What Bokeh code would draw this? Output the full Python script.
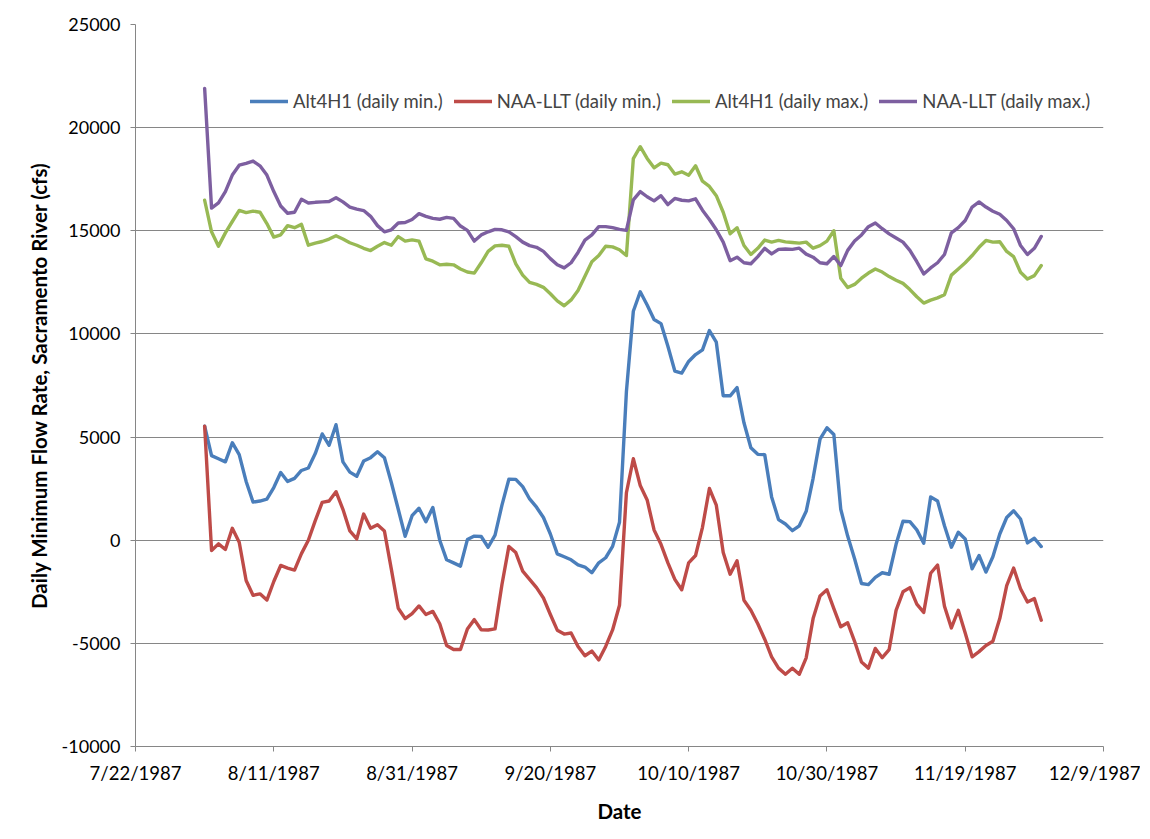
import datetime as dt
import pandas as pd
from bokeh.plotting import figure
from bokeh.models import FixedTicker, Legend, LegendItem, Range1d
from bokeh.embed import file_html
from bokeh.resources import INLINE

# ---- data (daily values, starting 8/1/1987) ----
start_date = "1987-08-01"

alt4h1_min = [
    5530, 4100, 3950, 3800, 4726, 4150, 2850, 1850, 1900, 1990,
    2555, 3279, 2850, 3000, 3380, 3500, 4200, 5150, 4600, 5600,
    3800, 3300, 3100, 3841, 4002, 4292, 4000, 2800, 1500, 191,
    1188, 1550, 900, 1590, 0, -950, -1100, -1256, 32, 200,
    180, -340, 250, 1700, 2957, 2950, 2600, 2000, 1600, 1100,
    300, -661, -800, -950, -1200, -1300, -1578, -1095, -850, -300,
    867, 7200, 11100, 12042, 11400, 10700, 10500, 9400, 8200, 8100,
    8665, 9000, 9228, 10161, 9600, 7000, 7000, 7400, 5691, 4484,
    4163, 4150, 2100, 1000, 786, 465, 700, 1400, 3000, 4900,
    5450, 5128, 1500, 200, -900, -2100, -2150, -1800, -1578, -1650,
    -200, 920, 900, 500, -150, 2100, 1900, 700, -340, 384,
    63, -1385, -742, -1546, -800, 300, 1100, 1429, 1028, -130,
    96, -307,
]

naa_llt_min = [
    5530, -500, -177, -450, 577, -100, -1950, -2671, -2600, -2900,
    -2000, -1224, -1350, -1450, -650, 0, 950, 1831, 1900, 2350,
    1500, 450, 63, 1269, 577, 754, 450, -1400, -3300, -3797,
    -3556, -3186, -3600, -3450, -4050, -5100, -5300, -5300, -4300, -3850,
    -4340, -4350, -4300, -2150, -300, -600, -1500, -1900, -2300, -2800,
    -3600, -4360, -4550, -4500, -5150, -5600, -5372, -5806, -5150, -4350,
    -3153, 2300, 3950, 2650, 1950, 500, -200, -1100, -1900, -2400,
    -1100, -742, 625, 2506, 1700, -600, -1650, -1000, -2912, -3395,
    -4050, -4800, -5650, -6200, -6500, -6209, -6500, -5700, -3800, -2700,
    -2400, -3314, -4199, -4000, -4900, -5900, -6200, -5244, -5694, -5300,
    -3400, -2500, -2300, -3100, -3500, -1600, -1200, -3200, -4250, -3395,
    -4500, -5650, -5400, -5100, -4900, -3800, -2200, -1350, -2350, -2993,
    -2832, -3877,
]

alt4h1_max = [
    16480, 14950, 14255, 14900, 15450, 15990, 15880, 15950, 15900, 15350,
    14693, 14806, 15250, 15150, 15310, 14300, 14400, 14480, 14600, 14760,
    14600, 14420, 14300, 14150, 14044, 14250, 14430, 14300, 14720, 14500,
    14560, 14500, 13638, 13524, 13350, 13380, 13350, 13151, 13000, 12950,
    13450, 14000, 14270, 14300, 14250, 13400, 12850, 12500, 12400, 12260,
    11950, 11600, 11366, 11650, 12100, 12800, 13500, 13800, 14250, 14220,
    14080, 13800, 18500, 19075, 18507, 18050, 18280, 18200, 17750, 17858,
    17695, 18150, 17403, 17150, 16700, 15900, 14855, 15150, 14287, 13850,
    14150, 14550, 14449, 14531, 14460, 14430, 14401, 14450, 14157, 14280,
    14500, 15000, 12700, 12250, 12400, 12700, 12950, 13150, 13000, 12778,
    12600, 12450, 12150, 11800, 11496, 11640, 11750, 11900, 12850, 13150,
    13450, 13800, 14200, 14531, 14450, 14470, 14000, 13750, 12989, 12664,
    12826, 13313,
]

naa_llt_max = [
    21900, 16100, 16350, 16900, 17700, 18180, 18270, 18380, 18150, 17700,
    16900, 16200, 15850, 15900, 16530, 16350, 16380, 16400, 16420, 16600,
    16400, 16150, 16050, 15980, 15700, 15250, 14950, 15050, 15380, 15400,
    15550, 15830, 15700, 15600, 15560, 15650, 15600, 15230, 15020, 14500,
    14800, 14950, 15070, 15050, 14950, 14720, 14450, 14280, 14200, 14000,
    13650, 13350, 13200, 13450, 13950, 14550, 14800, 15200, 15200, 15150,
    15070, 15020, 16500, 16900, 16650, 16450, 16700, 16270, 16570, 16480,
    16450, 16550, 16000, 15550, 15050, 14450, 13550, 13720, 13450, 13400,
    13750, 14150, 13880, 14100, 14120, 14100, 14157, 13870, 13720, 13450,
    13400, 13752, 13313, 14050, 14500, 14800, 15200, 15380, 15100, 14850,
    14650, 14450, 14050, 13500, 12907, 13200, 13450, 13850, 14900, 15150,
    15500, 16150, 16397, 16150, 15950, 15800, 15500, 15100, 14287, 13849,
    14150, 14725,
]

series_names = [
    "Alt4H1 (daily min.)",
    "NAA-LLT (daily min.)",
    "Alt4H1 (daily max.)",
    "NAA-LLT (daily max.)",
]
series_colors = ["#4A7EBB", "#BE4B48", "#98B954", "#7D5FA0"]

x_tick_dates = ["1987-07-22", "1987-08-11", "1987-08-31", "1987-09-20",
                "1987-10-10", "1987-10-30", "1987-11-19", "1987-12-09"]
x_tick_labels = ["7/22/1987", "8/11/1987", "8/31/1987", "9/20/1987",
                 "10/10/1987", "10/30/1987", "11/19/1987", "12/9/1987"]
y_ticks = [-10000, -5000, 0, 5000, 10000, 15000, 20000, 25000]
y_tick_labels = ["-10000", "-5000", "0", "5000", "10000", "15000", "20000", "25000"]

# ---- build ----
def to_ms(s):
    d = dt.datetime.strptime(s, "%Y-%m-%d")
    return (d - dt.datetime(1970, 1, 1)).total_seconds() * 1000.0

dates = pd.date_range(start_date, periods=len(alt4h1_min), freq="D")
tick_ms = [to_ms(s) for s in x_tick_dates]

FONT = "Lato"
W, H = 1140, 830
p = figure(
    width=W, height=H,
    x_axis_type="datetime",
    output_backend="svg", toolbar_location=None,
    x_range=Range1d(tick_ms[0], tick_ms[-1]),
    y_range=Range1d(y_ticks[0], y_ticks[-1]),
    min_border_left=135, min_border_top=24,
    min_border_right=W - 1103, min_border_bottom=H - 746,
)
p.outline_line_color = None
p.background_fill_color = "white"
p.border_fill_color = "white"

renderers = []
for vals, color in zip([alt4h1_min, naa_llt_min, alt4h1_max, naa_llt_max], series_colors):
    r = p.line(dates, vals, line_color=color, line_width=3.4, line_join="round", line_cap="round")
    renderers.append(r)

# axes
p.xaxis.ticker = FixedTicker(ticks=tick_ms)
p.xaxis.major_label_overrides = {t: lab for t, lab in zip(tick_ms, x_tick_labels)}
p.yaxis.ticker = FixedTicker(ticks=y_ticks)
p.yaxis.major_label_overrides = {t: lab for t, lab in zip(y_ticks, y_tick_labels)}
for ax in (p.xaxis[0], p.yaxis[0]):
    ax.axis_line_color = "#868686"
    ax.axis_line_width = 1
    ax.major_tick_line_color = "#868686"
    ax.major_tick_out = 5
    ax.major_tick_in = 0
    ax.minor_tick_out = 0
    ax.minor_tick_in = 0
    ax.major_label_text_font = FONT
    ax.major_label_text_color = "black"
    ax.axis_label_text_font = FONT
    ax.axis_label_text_font_style = "bold"
    ax.axis_label_text_font_size = "20.5px"
    ax.axis_label_text_color = "black"
p.xaxis.major_label_text_font_size = "18.5px"
p.yaxis.major_label_text_font_size = "18px"

p.xaxis.axis_label = "Date"
p.xaxis.major_label_standoff = 10
p.xaxis.axis_label_standoff = 12
p.yaxis.axis_label = "Daily Minimum Flow Rate, Sacramento River (cfs)"
p.yaxis.major_label_standoff = 10
p.yaxis.axis_label_standoff = 8

p.xgrid.grid_line_color = None
p.ygrid.grid_line_color = "#868686"
p.ygrid.grid_line_width = 1
p.ygrid.ticker = FixedTicker(ticks=y_ticks)

legend = Legend(
    items=[LegendItem(label=n, renderers=[r]) for n, r in zip(series_names, renderers)],
    orientation="horizontal",
    location=(115, 634),
    border_line_color=None,
    background_fill_alpha=0,
    label_text_font=FONT,
    label_text_font_size="18.5px",
    glyph_width=38,
    label_standoff=5,
    spacing=11,
    padding=4,
    margin=0,
)
p.add_layout(legend)

open("out.html", "w").write(file_html(p, INLINE))
